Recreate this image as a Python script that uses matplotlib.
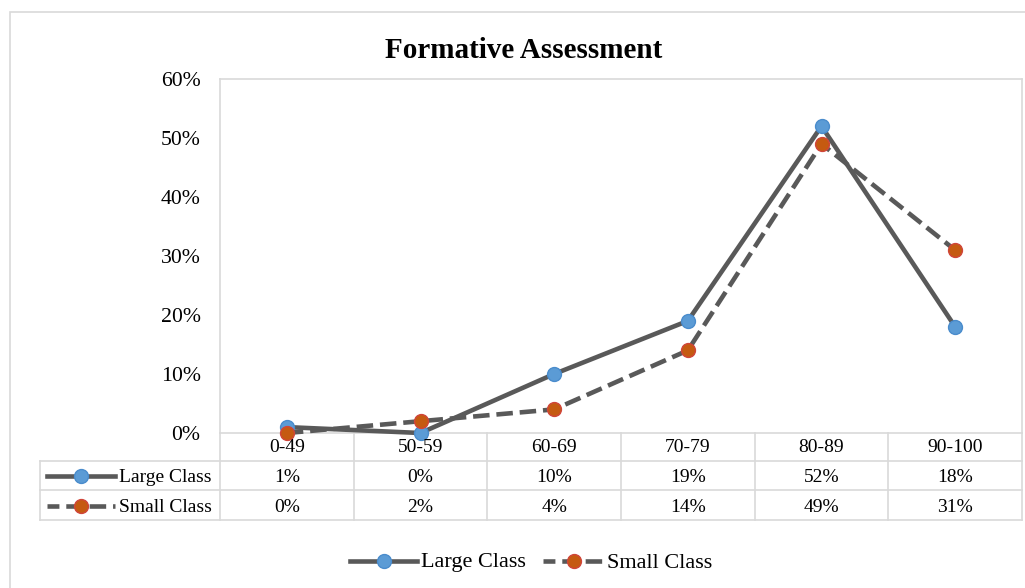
import matplotlib
matplotlib.use("Agg")
import matplotlib.pyplot as plt
from matplotlib.lines import Line2D
from matplotlib.patches import Rectangle
from matplotlib.transforms import blended_transform_factory

plt.rcParams['font.family'] = ['Liberation Serif', 'DejaVu Serif']

categories = ["0-49", "50-59", "60-69", "70-79", "80-89", "90-100"]
large_class = [1, 0, 10, 19, 52, 18]
small_class = [0, 2, 4, 14, 49, 31]
y_ticks = [0, 10, 20, 30, 40, 50, 60]
series_names = ["Large Class", "Small Class"]
title = "Formative Assessment"

W, H = 1025, 588
fig = plt.figure(figsize=(W / 100, H / 100), dpi=100)


def fx(px):
    return px / W


def fy(py):
    return 1 - py / H


grid_col = "#d9d9d9"
line_col = "#595959"
blue, blue_edge = "#5b9bd5", "#4a8ccc"
orange, orange_edge = "#c55a11", "#d0453a"
dash = (0, (3.6, 1.5))
key_dash = (1.0, (3.6, 1.5))

# outer chart border
fig.patches.append(Rectangle((fx(10), fy(600)), fx(1040), fy(12) - fy(600),
                             transform=fig.transFigure, fill=False,
                             edgecolor=grid_col, linewidth=1.2))

left, right, top, bottom = 220, 1022, 79, 433
ax = fig.add_axes([fx(left), fy(bottom), fx(right) - fx(left), fy(top) - fy(bottom)])
x = list(range(len(categories)))
ax.set_xlim(-0.5, len(categories) - 0.5)
ax.set_ylim(0, 60)
ax.set_yticks(y_ticks)
ax.set_yticklabels([f"{v}%" for v in y_ticks], fontsize=15.7)
ax.tick_params(axis="y", length=0, pad=14, colors="black")
ax.set_xticks([])
for s in ax.spines.values():
    s.set_color(grid_col)
    s.set_linewidth(1.2)

ax.plot(x, large_class, color=line_col, lw=3.3, marker="o", ms=10,
        mfc=blue, mec=blue_edge, mew=1, zorder=3, clip_on=False)
ax.plot(x, small_class, color=line_col, lw=3.3, ls=dash, marker="o", ms=10,
        mfc=orange, mec=orange_edge, mew=1, zorder=3, clip_on=False)

fig.text(fx(524), fy(50), title, fontsize=21, fontweight="bold",
         ha="center", va="center")

# data table below the axis
tr = blended_transform_factory(ax.transData, fig.transFigure)
trf = fig.transFigure
row_y = [433, 461, 490, 520]
tab_left = 40
for i in range(len(categories) + 1):
    xv = i - 0.5
    ax.add_line(Line2D([xv, xv], [fy(row_y[0]), fy(row_y[-1])], transform=tr,
                       color=grid_col, lw=1.2, clip_on=False))
ax.add_line(Line2D([fx(tab_left), fx(tab_left)], [fy(row_y[1]), fy(row_y[-1])],
                   transform=trf, color=grid_col, lw=1.2, clip_on=False))
for ry in row_y[1:]:
    ax.add_line(Line2D([fx(tab_left), fx(right)], [fy(ry), fy(ry)], transform=trf,
                       color=grid_col, lw=1.2, clip_on=False))

for i, c in enumerate(categories):
    ax.text(i, fy(448), c, transform=tr, ha="center", va="center", fontsize=14)
    ax.text(i, fy(477), f"{large_class[i]}%", transform=tr, ha="center",
            va="center", fontsize=14)
    ax.text(i, fy(507), f"{small_class[i]}%", transform=tr, ha="center",
            va="center", fontsize=14)


def legend_key(x0, x1, yc, style, mfc, mec):
    xm = (x0 + x1) / 2
    fig.add_artist(Line2D([fx(x0), fx(x1)], [fy(yc), fy(yc)], transform=trf,
                          color=line_col, lw=3.3, ls=style))
    fig.add_artist(Line2D([fx(xm)], [fy(yc)], transform=trf, marker="o", ms=10,
                          mfc=mfc, mec=mec, mew=1, ls="none"))


legend_key(47, 115, 476, "-", blue, blue_edge)
legend_key(47, 115, 506, key_dash, orange, orange_edge)
fig.text(fx(119), fy(477), series_names[0], fontsize=14, va="center", ha="left")
fig.text(fx(119), fy(507), series_names[1], fontsize=14, va="center", ha="left")

# legend at the bottom
legend_key(350, 417, 561, "-", blue, blue_edge)
legend_key(543, 605, 561, key_dash, orange, orange_edge)
fig.text(fx(421), fy(563), series_names[0], fontsize=16, va="center", ha="left")
fig.text(fx(607), fy(563), series_names[1], fontsize=16, va="center", ha="left")

fig.savefig("out.png", dpi=100, facecolor="white")
